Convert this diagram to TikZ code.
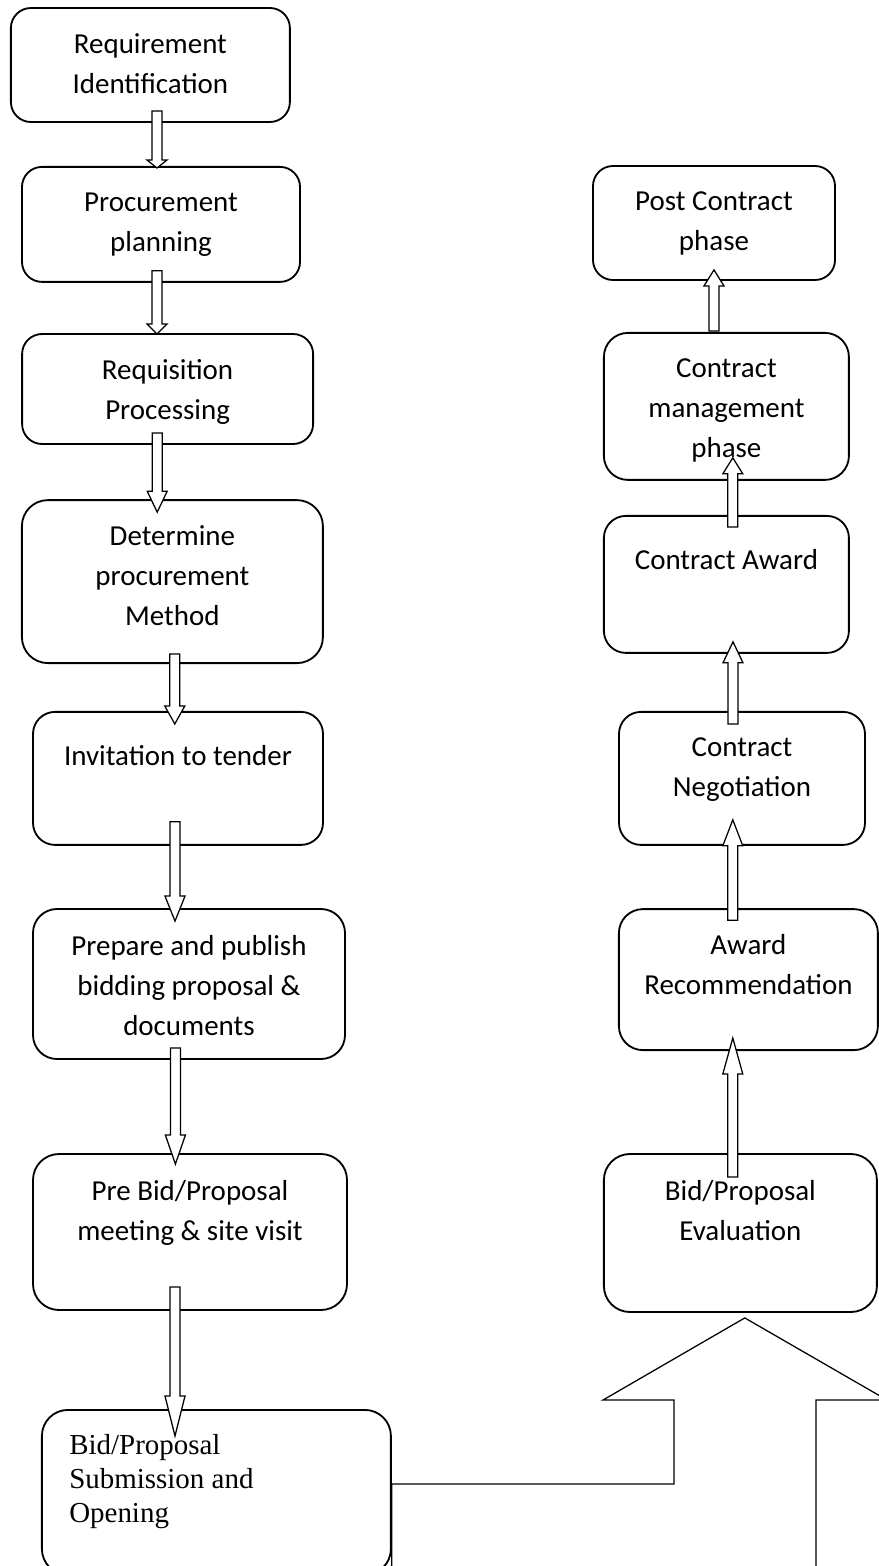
\documentclass[tikz,border=0pt]{standalone}
\usepackage{fontspec}
\setmainfont{Carlito}
\newfontfamily\serifbox{Liberation Serif}
\usetikzlibrary{calc}
\tikzset{
    % Box styles - rounded corners, white
    stage/.style={
        rectangle,
        rounded corners=5mm,
        draw=black,
        fill=white,
        line width=1.3pt,
        inner sep=0pt
    },
    stagetext/.style={
        font=\fontsize{20.6pt}{28.45pt}\selectfont,
        align=center,
        anchor=north,
        inner sep=0pt,
        execute at begin node=\strut
    },
    % Arrow styles - hollow block arrows, vertical only
    hollow/.style={
        draw=black,
        fill=white,
        line width=0.9pt,
        to path={
            let \p1=(\tikztostart), \p2=(\tikztotarget), \n1={sign(\y2-\y1)} in
            (\x1-1.25mm,\y1) -- (\x1-1.25mm,{\y2-(\n1)*#1}) -- (\x1-2.5mm,{\y2-(\n1)*#1})
            -- (\x1,\y2) -- (\x1+2.5mm,{\y2-(\n1)*#1}) -- (\x1+1.25mm,{\y2-(\n1)*#1})
            -- (\x1+1.25mm,\y1) -- cycle
        }
    }
}

\begin{document}
\begin{tikzpicture}[x=1mm, y=1mm]
    \useasboundingbox (0,0) rectangle (219.75,-391.5);
    \clip (0,0) rectangle (219.75,-391.5);

    % Left column
    \node[stage, minimum width=69.75mm, minimum height=28.5mm] (req) at (37.6,-16.25) {};
    \node[stage, minimum width=69.5mm, minimum height=28.75mm] (plan) at (40.25,-56.1) {};
    \node[stage, minimum width=72.75mm, minimum height=27.5mm] (reqn) at (41.9,-97.25) {};
    \node[stage, minimum width=75.25mm, minimum height=40.75mm, rounded corners=6.5mm] (meth) at (43.1,-145.4) {};
    \node[stage, minimum width=72.5mm, minimum height=33.25mm, rounded corners=5.5mm] (inv) at (44.5,-194.6) {};
    \node[stage, minimum width=78mm, minimum height=37.5mm, rounded corners=6mm] (prep) at (47.25,-246) {};
    \node[stage, minimum width=78.5mm, minimum height=39mm, rounded corners=6.5mm] (pre) at (47.5,-308) {};
    \node[stage, minimum width=87.25mm, minimum height=41.25mm, rounded corners=6.5mm] (sub) at (54.1,-373.1) {};

    \node[stagetext] (req-t) at ([yshift=-6.6mm]req.north) {Requirement\\Identification};
    \node[stagetext] (plan-t) at ([yshift=-6.6mm]plan.north) {Procurement\\planning};
    \node[stagetext] (reqn-t) at ([yshift=-6.6mm]reqn.north) {Requisition\\Processing};
    \node[stagetext] (meth-t) at ([yshift=-6.6mm]meth.north) {Determine\\procurement\\Method};
    \node[stagetext] (inv-t) at ([yshift=-6.6mm]inv.north) {Invitation to tender};
    \node[stagetext] (prep-t) at ([yshift=-6.85mm]prep.north) {Prepare and publish\\bidding proposal \&\\documents};
    \node[stagetext] (pre-t) at ([yshift=-6.85mm]pre.north) {Pre Bid/Proposal\\meeting \& site visit};
    \node[stagetext, font=\serifbox\fontsize{20.6pt}{24.2pt}\selectfont, align=left, anchor=north west]
        (sub-t) at ([xshift=7mm, yshift=-6.25mm]sub.north west) {Bid/Proposal\\Submission and\\Opening};

    % Right column
    \node[stage, minimum width=60.5mm, minimum height=28.5mm] (post) at (178.5,-55.75) {};
    \node[stage, minimum width=61.25mm, minimum height=36.75mm, rounded corners=6mm] (mgmt) at (181.6,-101.6) {};
    \node[stage, minimum width=61.25mm, minimum height=34.25mm, rounded corners=5.5mm] (awd) at (181.6,-146.1) {};
    \node[stage, minimum width=61.5mm, minimum height=33.25mm, rounded corners=5.5mm] (neg) at (185.5,-194.6) {};
    \node[stage, minimum width=64.75mm, minimum height=35.25mm, rounded corners=6mm] (rec) at (187.1,-244.9) {};
    \node[stage, minimum width=68.25mm, minimum height=39.5mm, rounded corners=6.5mm] (eval) at (185.1,-308.25) {};

    \node[stagetext] (post-t) at ([yshift=-6.6mm]post.north) {Post Contract\\phase};
    \node[stagetext] (mgmt-t) at ([yshift=-6.6mm]mgmt.north) {Contract\\management\\phase};
    \node[stagetext] (awd-t) at ([yshift=-6.6mm]awd.north) {Contract Award};
    \node[stagetext] (neg-t) at ([yshift=-6.6mm]neg.north) {Contract\\Negotiation};
    \node[stagetext] (rec-t) at ([yshift=-6.6mm]rec.north) {Award\\Recommendation};
    \node[stagetext] (eval-t) at ([yshift=-6.85mm]eval.north) {Bid/Proposal\\Evaluation};

    % Downward arrows
    \draw[hollow=2mm] ([xshift=1.65mm, yshift=3mm]req.south) to ([yshift=-0.5mm]plan.north);
    \draw[hollow=2.5mm] ([xshift=-1mm, yshift=3mm]plan.south) to ([yshift=-0.25mm]reqn.north);
    \draw[hollow=5.25mm] ([xshift=-2.6mm, yshift=3mm]reqn.south) to ([yshift=-3.25mm]meth.north);
    \draw[hollow=4.5mm] ([xshift=0.6mm, yshift=2.5mm]meth.south) to ([yshift=-3.25mm]inv.north);
    \draw[hollow=6.25mm] ([xshift=-0.75mm, yshift=6mm]inv.south) to ([yshift=-3.25mm]prep.north);
    \draw[hollow=7.25mm] ([xshift=-3.4mm, yshift=3mm]prep.south) to ([yshift=-2.75mm]pre.north);
    \draw[hollow=10mm] ([xshift=-3.75mm, yshift=6mm]pre.south) to ([yshift=-6.75mm]sub.north);

    % Upward arrows
    \draw[hollow=4mm] ([xshift=-3.1mm, yshift=0.25mm]mgmt.north) to ([yshift=2.75mm]post.south);
    \draw[hollow=4mm] ([xshift=1.6mm, yshift=-3mm]awd.north) to ([yshift=5.75mm]mgmt.south);
    \draw[hollow=5.25mm] ([xshift=-2.25mm, yshift=-3.25mm]neg.north) to ([yshift=3mm]awd.south);
    \draw[hollow=6.5mm] ([xshift=-3.9mm, yshift=-3mm]rec.north) to ([yshift=6.5mm]neg.south);
    \draw[hollow=9mm] ([xshift=-1.9mm, yshift=-6mm]eval.north) to ([yshift=3.25mm]rec.south);

    % Bent block arrow
    \coordinate (tip) at ([xshift=1.1mm, yshift=-1.25mm]eval.south);
    \draw[line width=0.9pt] (sub.south east) |- (168.5,-371) -- (168.5,-350) -- (150.75,-350)
        -- (tip) -- (221.75,-350) -- (204,-350) -- (204,-400);
\end{tikzpicture}
\end{document}
